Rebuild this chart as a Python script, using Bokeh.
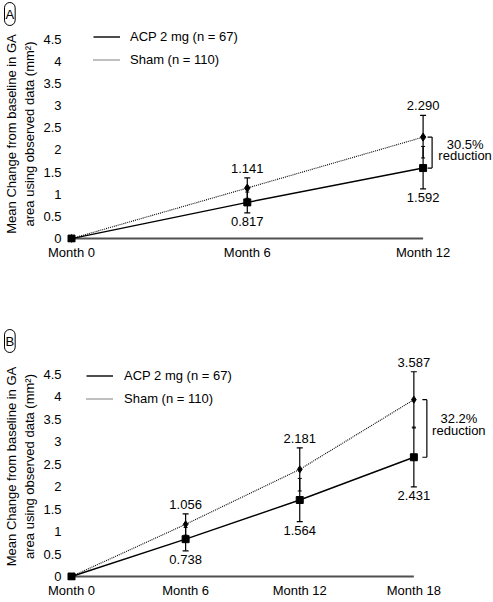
from bokeh.plotting import figure
from bokeh.models import (ColumnDataSource, FixedTicker, Label, LabelSet, Legend,
                          LegendItem, Range1d)
from bokeh.core.properties import value
from bokeh.layouts import column
from bokeh.embed import file_html
from bokeh.resources import INLINE

FONT = "Liberation Sans"

# ---------------- data ----------------
y_ticks = [0, 0.5, 1, 1.5, 2, 2.5, 3, 3.5, 4, 4.5]
legend_acp = "ACP 2 mg (n = 67)"
legend_sham = "Sham (n = 110)"
y_title = "Mean Change from baseline in GA\narea using observed data (mm\u00b2)"

# Panel A
months_a = [0, 6, 12]
month_labels_a = ["Month 0", "Month 6", "Month 12"]
acp_a = [0, 0.817, 1.592]
acp_a_lo = [0, 0.58, 1.12]
acp_a_hi = [0, 1.05, 2.08]
sham_a = [0, 1.141, 2.290]
sham_a_lo = [0, 0.91, 1.82]
sham_a_hi = [0, 1.37, 2.78]
acp_a_text = ["0.817", "1.592"]
sham_a_text = ["1.141", "2.290"]
reduction_a = "30.5%"

# Panel B (points as drawn in the picture; numbers as printed)
months_b = [0, 6, 12, 18]
month_labels_b = ["Month 0", "Month 6", "Month 12", "Month 18"]
acp_b = [0, 0.83, 1.70, 2.65]
acp_b_lo = [0, 0.57, 1.22, 1.99]
acp_b_hi = [0, 1.09, 2.18, 3.32]
sham_b = [0, 1.16, 2.38, 3.93]
sham_b_lo = [0, 0.92, 1.90, 3.30]
sham_b_hi = [0, 1.39, 2.86, 4.55]
acp_b_text = ["0.738", "1.564", "2.431"]
sham_b_text = ["1.056", "2.181", "3.587"]
reduction_b = "32.2%"


def panel(letter, months, mlabels, acp, acp_lo, acp_hi, sham, sham_lo, sham_hi,
          acp_text, sham_text, reduction, height, top, bottom, ppm, ppy,
          leg_xy, leg_standoff, br_dx, txt_dx, txt_dy, sham_size):
    W = 493
    left = 66
    frame_w = W - left
    frame_h = height - top - bottom
    x0 = -5.0 / ppm
    y0 = -4.0 / ppy
    p = figure(width=W, height=height, output_backend="svg", toolbar_location=None,
               x_range=Range1d(x0, x0 + frame_w / ppm),
               y_range=Range1d(y0, y0 + frame_h / ppy),
               min_border_left=left, min_border_right=0,
               min_border_top=top, min_border_bottom=bottom)
    p.outline_line_color = None
    p.xgrid.grid_line_color = None
    p.ygrid.grid_line_color = None
    p.background_fill_color = "white"

    # panel letter as title
    p.title.text = letter
    p.title.align = "left"
    p.title.offset = -62
    p.title.standoff = 0
    p.title.text_font = FONT
    p.title.text_font_size = "13px"
    p.title.text_font_style = "normal"
    p.title.text_color = "black"
    p.title.border_line_color = "black"
    p.title.border_line_width = 1
    p.title.padding = (1, 4)
    p.title.border_radius = 9

    # axes
    xa = p.xaxis[0]
    xa.ticker = FixedTicker(ticks=months)
    xa.major_label_overrides = {m: l for m, l in zip(months, mlabels)}
    xa.axis_line_color = None
    xa.major_tick_line_color = None
    xa.minor_tick_line_color = None
    xa.major_tick_out = 0
    xa.major_tick_in = 0
    xa.minor_tick_out = 0
    xa.major_label_standoff = 2
    xa.major_label_text_font = FONT
    xa.major_label_text_font_size = "13px"
    xa.major_label_text_color = "black"

    ya = p.yaxis[0]
    ya.ticker = FixedTicker(ticks=y_ticks)
    ya.major_label_overrides = {t: f"{t:g}" for t in y_ticks}
    ya.axis_line_color = None
    ya.major_tick_line_color = None
    ya.minor_tick_line_color = None
    ya.major_tick_out = 0
    ya.major_tick_in = 0
    ya.minor_tick_out = 0
    ya.major_label_standoff = 5
    ya.major_label_text_font = FONT
    ya.major_label_text_font_size = "13px"
    ya.major_label_text_color = "black"
    ya.axis_label = y_title
    ya.axis_label_standoff = 3
    ya.axis_label_text_font = FONT
    ya.axis_label_text_font_size = "13px"
    ya.axis_label_text_font_style = "normal"
    ya.axis_label_text_color = "black"

    # baseline
    p.segment(x0=[months[0]], y0=[0], x1=[months[-1]], y1=[0],
              line_color="#505050", line_width=2)

    # lines
    sham_line = p.line(months, sham, line_color="black", line_width=1.1,
                       line_dash="1 1")
    acp_line = p.line(months, acp, line_color="black", line_width=1.4)

    # error bars
    p.segment(x0=months[1:], y0=sham_lo[1:], x1=months[1:], y1=sham_hi[1:],
              line_color="black", line_width=1.2)
    p.segment(x0=months[1:], y0=acp_lo[1:], x1=months[1:], y1=acp_hi[1:],
              line_color="black", line_width=1.2)
    p.scatter(months[1:], sham_hi[1:], marker="dash", size=6, line_color="black",
              line_width=1.2)
    p.scatter(months[1:], acp_lo[1:], marker="dash", size=6, line_color="black",
              line_width=1.2)
    p.scatter(months[1:], sham_lo[1:], marker="dash", size=4, line_color="black",
              line_width=1)
    p.scatter(months[1:], acp_hi[1:], marker="dash", size=4, line_color="black",
              line_width=1)

    # markers
    p.scatter(months, sham, marker="diamond", size=sham_size, fill_color="black",
              line_color="black")
    p.scatter(months, acp, marker="square", size=7, fill_color="black",
              line_color="black")

    # value labels
    src_s = ColumnDataSource(dict(x=months[1:], y=sham_hi[1:], t=sham_text))
    src_a = ColumnDataSource(dict(x=months[1:], y=acp_lo[1:], t=acp_text))
    p.add_layout(LabelSet(x="x", y="y", text="t", source=src_s, y_offset=5,
                          text_align="center", text_baseline="bottom",
                          text_font=value(FONT), text_font_size=value("13px"),
                          text_color="black"))
    p.add_layout(LabelSet(x="x", y="y", text="t", source=src_a, y_offset=-4,
                          text_align="center", text_baseline="top",
                          text_font=value(FONT), text_font_size=value("13px"),
                          text_color="black"))

    # bracket
    bx = months[-1] + br_dx / ppm
    tick = 4.5 / ppm
    p.segment(x0=[bx], y0=[acp[-1]], x1=[bx], y1=[sham[-1]], line_color="black",
              line_width=1.2)
    p.segment(x0=[bx - tick, bx - tick], y0=[acp[-1], sham[-1]], x1=[bx, bx],
              y1=[acp[-1], sham[-1]], line_color="black", line_width=1.2)
    mid = (acp[-1] + sham[-1]) / 2
    p.add_layout(Label(x=months[-1], y=mid, x_offset=txt_dx, y_offset=txt_dy + 5.8,
                       text=reduction, text_align="center", text_baseline="middle",
                       text_font=FONT, text_font_size="13px", text_color="black"))
    p.add_layout(Label(x=months[-1], y=mid, x_offset=txt_dx, y_offset=txt_dy - 5.8,
                       text="reduction", text_align="center", text_baseline="middle",
                       text_font=FONT, text_font_size="13px", text_color="black"))

    # legend
    leg = Legend(items=[LegendItem(label=legend_acp, renderers=[acp_line]),
                        LegendItem(label=legend_sham, renderers=[sham_line])],
                 location=leg_xy, border_line_color=None, background_fill_alpha=0,
                 padding=0, margin=0, spacing=0, glyph_width=27, glyph_height=23,
                 label_height=23, label_standoff=leg_standoff, label_text_font=FONT,
                 label_text_font_size="13px", label_text_color="black")
    p.add_layout(leg)
    return p


pA = panel("A", months_a, month_labels_a, acp_a, acp_a_lo, acp_a_hi, sham_a,
           sham_a_lo, sham_a_hi, acp_a_text, sham_a_text, reduction_a,
           height=300, top=20, bottom=58, ppm=29.3, ppy=45.33,
           leg_xy=(27, 171), leg_standoff=10, br_dx=9, txt_dx=42, txt_dy=2.5,
           sham_size=8)
pB = panel("B", months_b, month_labels_b, acp_b, acp_b_lo, acp_b_hi, sham_b,
           sham_b_lo, sham_b_hi, acp_b_text, sham_b_text, reduction_b,
           height=300, top=52, bottom=19, ppm=19.02, ppy=45.2,
           leg_xy=(20, 170), leg_standoff=11, br_dx=13, txt_dx=45, txt_dy=4,
           sham_size=7)

layout = column(pA, pB)
open("out.html", "w").write(file_html(layout, INLINE))
